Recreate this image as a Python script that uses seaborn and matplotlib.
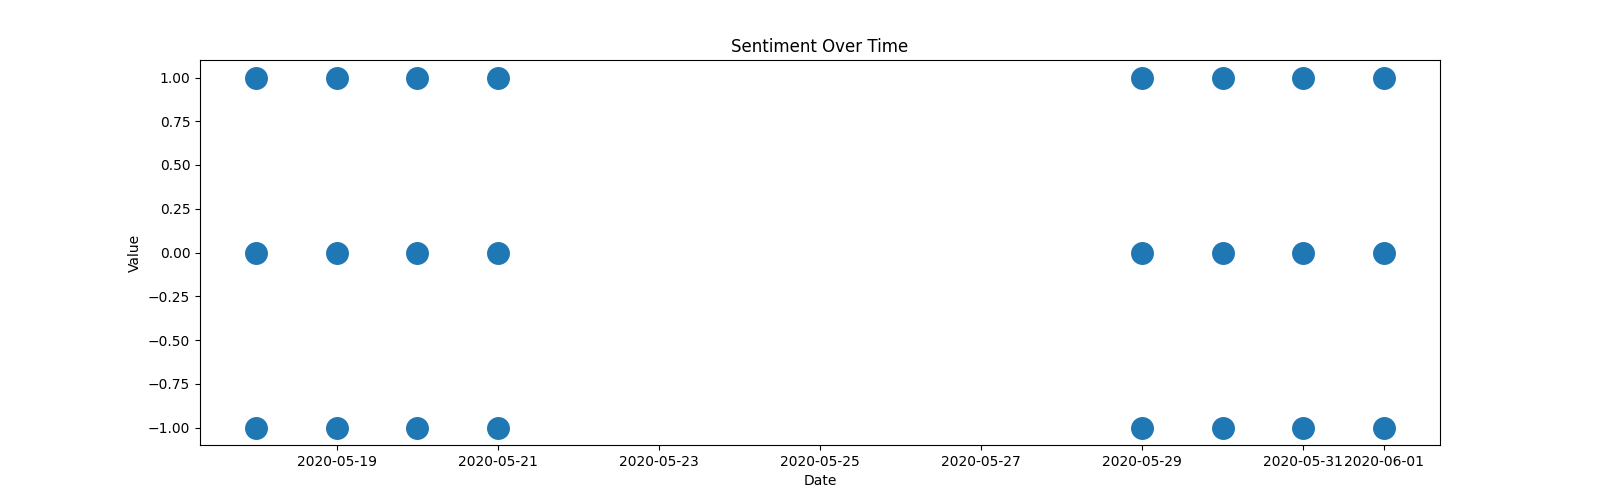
import pandas as pd
import seaborn as sns
import matplotlib
matplotlib.use("Agg")
import matplotlib.pyplot as plt

# sentiment scores per day (-1 negative, 0 neutral, 1 positive)
days = ["2020-05-18", "2020-05-19", "2020-05-20", "2020-05-21",
        "2020-05-29", "2020-05-30", "2020-05-31", "2020-06-01"]
sentiment_values = [-1, 0, 1]

rows = []
for d in days:
    for v in sentiment_values:
        rows.append({"Date": pd.Timestamp(d), "Value": v})
df = pd.DataFrame(rows)

plt.figure(figsize=(16, 5))
sns.scatterplot(x="Date", y="Value", data=df, s=240,
                color="#1f77b4", edgecolor="#1f77b4", linewidth=1)
plt.title("Sentiment Over Time")
plt.xlabel("Date")
plt.ylabel("Value")

plt.savefig("out.png", dpi=100)
